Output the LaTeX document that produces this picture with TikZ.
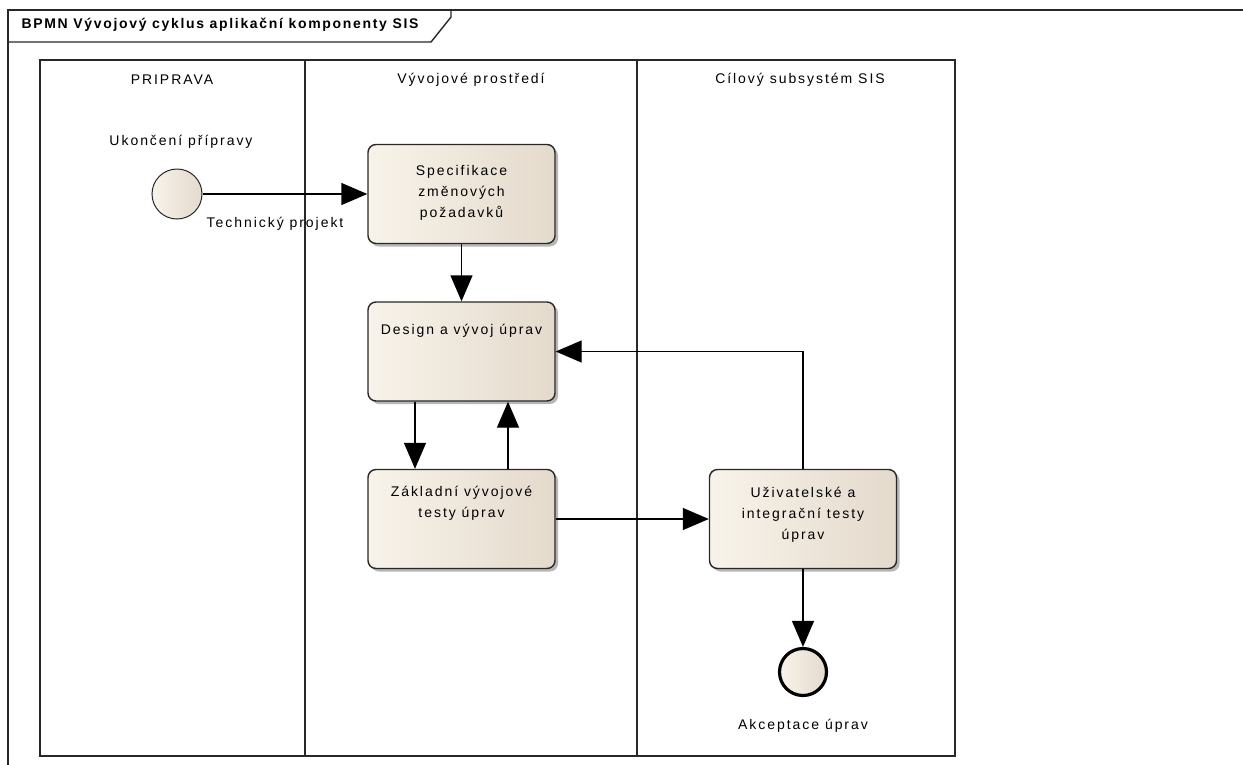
\documentclass[tikz,border=0pt]{standalone}
\usepackage{fontspec}
\newfontfamily\lbl[LetterSpace=14]{Liberation Sans}
\newfontfamily\ttl[LetterSpace=12]{Liberation Sans}
\usetikzlibrary{arrows.meta,shadows}
\definecolor{creamL}{RGB}{248,243,234}
\definecolor{creamR}{RGB}{228,218,204}
\definecolor{lineC}{RGB}{40,40,40}
\tikzset{
  txt/.style={font=\fontsize{14}{21}\selectfont\lbl, align=center, text=black},
  task/.style={draw=lineC, line width=1.4pt, rounded corners=8pt, minimum width=187pt, minimum height=99pt,
    left color=creamL, right color=creamR, inner sep=0pt,
    drop shadow={shadow xshift=3pt, shadow yshift=-3pt, fill=black!35, opacity=0.8}},
  evstart/.style={circle, draw=lineC, line width=1pt, minimum size=50pt, inner sep=0pt, left color=creamL, right color=creamR},
  evend/.style={circle, draw=black, line width=3.2pt, minimum size=47pt, inner sep=0pt, left color=creamL, right color=creamR},
  lanes/.style={draw=lineC, line width=1.4pt},
  arr/.style={draw=black, line width=1.4pt, -{Triangle[length=26pt,width=22pt]}},
}
\begin{document}
\begin{tikzpicture}[x=1pt,y=-1pt]
\useasboundingbox (0,0) rectangle (1243,764);
\fill[white] (0,0) rectangle (1243,764);
% outer frame
\draw[lanes] (8,770) -- (8,10) -- (1250,10);
% title tab
\draw[lanes] (8,42) -- (431,42) -- (451,17) -- (451,10);
\node[txt, font=\fontsize{14}{21}\selectfont\ttl\bfseries] (title) at (220,25) {BPMN Vývojový cyklus aplikační komponenty SIS};
% pool and lanes
\draw[lanes] (40,60) rectangle (955,756);
\draw[lanes] (305,60) -- (305,756);
\draw[lanes] (637,60) -- (637,756);
\node[txt] (h1) at (172,80) {PRIPRAVA};
\node[txt] (h2) at (471,80) {Vývojové prostředí};
\node[txt] (h3) at (800,80) {Cílový subsystém SIS};
% events
\node[evstart] (start) at (177,194) {};
\node[txt] (startlbl) at (181,142) {Ukončení přípravy};
\node[evend] (end) at (803,672) {};
\node[txt] (endlbl) at (803,726) {Akceptace úprav};
% tasks
\node[task] (t1) at (461.5,194) {};
\node[txt] (t1lbl) at (461.5,193) {Specifikace\\změnových\\požadavků};
\node[task] (t2) at (461.5,351.5) {};
\node[txt] (t2lbl) at (461.5,331) {Design a vývoj úprav};
\node[task] (t3) at (461.5,519) {};
\node[txt] (t3lbl) at (461.5,503) {Základní vývojové\\testy úprav};
\node[task] (t4) at (803,519) {};
\node[txt] (t4lbl) at (803,515) {Uživatelské a\\integrační testy\\úprav};
% connectors
\draw[arr] (start.east) -- (t1.west);
\node[txt] (flowlbl) at (275,224) {Technický projekt};
\draw[arr] (t1.south) -- (t2.north);
\draw[arr] ([xshift=-46.5pt]t2.south) -- ([xshift=-46.5pt]t3.north);
\draw[arr] ([xshift=46.5pt]t3.north) -- ([xshift=46.5pt]t2.south);
\draw[arr] (t3.east) -- (t4.west);
\draw[arr] (t4.north) |- (t2.east);
\draw[arr] (t4.south) -- (end.north);
\end{tikzpicture}
\end{document}
